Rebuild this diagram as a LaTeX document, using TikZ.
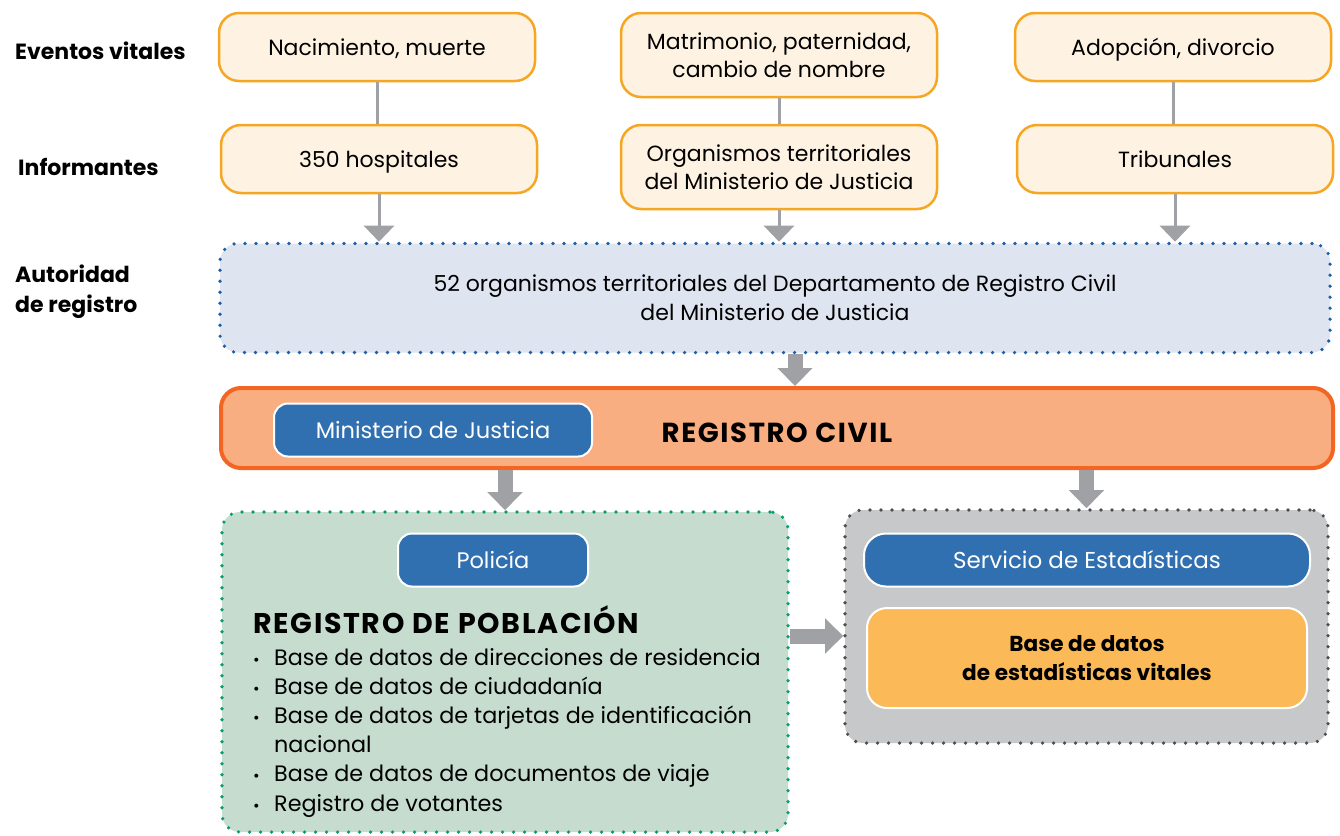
\documentclass[tikz,border=0pt]{standalone}
\usepackage{fontspec}
\setmainfont{Poppins}
\usetikzlibrary{arrows.meta,calc}

\definecolor{eventline}{HTML}{F6A623}
\definecolor{eventfill}{HTML}{FEF3E2}
\definecolor{authfill}{HTML}{DFE4F1}
\definecolor{authdot}{HTML}{1D5FA6}
\definecolor{civilfill}{HTML}{F9AE82}
\definecolor{civilline}{HTML}{F26522}
\definecolor{agency}{HTML}{3170B0}
\definecolor{popfill}{HTML}{C5DCCF}
\definecolor{popdot}{HTML}{0B9C6B}
\definecolor{statfill}{HTML}{C7C8CA}
\definecolor{statdot}{HTML}{4D4D4F}
\definecolor{dbfill}{HTML}{FBB957}
\definecolor{arrowgray}{HTML}{A0A1A4}

\newcommand{\popitem}[1]{\makebox[21pt][l]{\fontsize{16}{16}\selectfont\textbullet}#1}

\begin{document}
\begin{tikzpicture}
    [x=1pt, y=-1pt,
    every node/.style={font=\fontsize{22}{28}\selectfont, text=black, inner sep=0pt},
    event/.style={draw=eventline, line width=2.5pt, fill=eventfill, rounded corners=20pt,
        minimum width=316pt, minimum height=68pt, align=center, text depth=0pt},
    sidelabel/.style={font=\fontsize{22}{30}\selectfont\bfseries, anchor=west, align=left},
    dotbox/.style={line width=3.6pt, dash pattern=on 0pt off 11pt, line cap=round, rounded corners=18pt},
    agencybox/.style={draw=white, line width=2pt, fill=agency, rounded corners=14pt,
        minimum height=53pt, text=white, font=\fontsize{22.5}{24}\selectfont},
    link/.style={draw=arrowgray, line width=3pt},
    flow/.style={draw=arrowgray, line width=3pt, -{Triangle[width=30pt,length=16pt]}},
    bigflow/.style={draw=arrowgray, line width=15pt, -{Triangle[width=34pt,length=18pt]}}
    ]
    \useasboundingbox (0,0) rectangle (1340,835);

    \node[sidelabel] (evlab) at (15,51) {Eventos vitales};
    \node[sidelabel] (inflab) at (18,167) {Informantes};
    \node[sidelabel] (autlab) at (15,292) {Autoridad\\de registro};

    \node[event] (birth) at (377,47) {Nacimiento, muerte};
    \node[event, minimum height=84pt] (marriage) at (779,55) {Matrimonio, paternidad,\\cambio de nombre};
    \node[event] (adopt) at (1173,47) {Adopción, divorcio};

    \node[event] (hosp) at (379,159) {350 hospitales};
    \node[event, minimum height=84pt] (terr) at (779,167) {Organismos territoriales\\del Ministerio de Justicia};
    \node[event] (courts) at (1175,159) {Tribunales};

    \node[dotbox, draw=authdot, fill=authfill, minimum width=1110pt, minimum height=109pt, align=center,
        font=\fontsize{22}{29}\selectfont, text depth=0pt]
        (aut) at (775,298) {52 organismos territoriales del Departamento de Registro Civil\\del Ministerio de Justicia};

    \node[draw=civilline, line width=4pt, fill=civilfill, rounded corners=20pt,
        minimum width=1112pt, minimum height=80pt] (civil) at (777,428) {};
    \node[agencybox, minimum width=318pt] (justice) at (433,430) {Ministerio de Justicia};
    \node[font=\fontsize{27.5}{28}\selectfont\bfseries\addfontfeature{LetterSpace=6}] (civiltitle) at (777,433) {REGISTRO CIVIL};

    \node[dotbox, draw=popdot, fill=popfill, minimum width=566pt, minimum height=320pt] (pop) at (505,672) {};
    \node[agencybox, minimum width=190pt] (police) at (493,560) {Policía};
    \node[font=\fontsize{28.5}{30}\selectfont\bfseries\addfontfeature{LetterSpace=6}, anchor=west] (poptitle) at (253,620) {REGISTRO DE POBLACIÓN};
    \node[font=\fontsize{22.3}{29.2}\selectfont, anchor=north west, align=left] (poplist) at (253,648)
        {\popitem{Base de datos de direcciones de residencia}\\
         \popitem{Base de datos de ciudadanía}\\
         \popitem{Base de datos de tarjetas de identificación}\\
         \hspace*{21pt}nacional\\
         \popitem{Base de datos de documentos de viaje}\\
         \popitem{Registro de votantes}};

    \node[dotbox, draw=statdot, fill=statfill, minimum width=483pt, minimum height=233pt] (stat) at (1086.5,626.5) {};
    \node[agencybox, minimum width=446pt, rounded corners=22pt, font=\fontsize{23}{24}\selectfont] (service) at (1087,560) {Servicio de Estadísticas};
    \node[draw=white, line width=2pt, fill=dbfill, rounded corners=20pt, minimum width=440pt, minimum height=100pt,
        font=\fontsize{21.6}{29}\selectfont\bfseries, align=center, text depth=0pt] (vitaldb) at (1087,658) {Base de datos\\de estadísticas vitales};

    \draw[link] (birth.south) -- (birth.south |- hosp.north);
    \draw[link] (marriage.south) -- (marriage.south |- terr.north);
    \draw[link] (adopt.south) -- (adopt.south |- courts.north);

    \draw[flow] (hosp.south) -- (hosp.south |- aut.north);
    \draw[flow] (terr.south) -- (terr.south |- aut.north);
    \draw[flow] (courts.south) -- (courts.south |- aut.north);

    \draw[bigflow] ([xshift=20pt]aut.south) -- ([xshift=20pt]aut.south |- civil.north);
    \draw[bigflow] (civil.south -| pop.north) -- (pop.north);
    \draw[bigflow] (civil.south -| stat.north) -- (stat.north);
    \draw[bigflow] ([yshift=22pt]pop.east |- vitaldb.west) -- ([yshift=22pt]stat.west |- vitaldb.west);
\end{tikzpicture}
\end{document}
